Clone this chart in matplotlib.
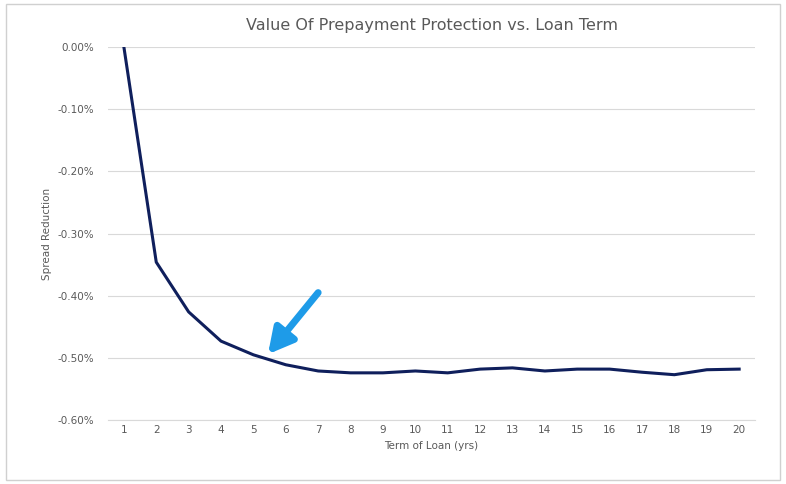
import matplotlib.pyplot as plt
from matplotlib.ticker import FuncFormatter

terms = list(range(1, 21))
spread = [0.0, -0.346, -0.426, -0.473, -0.495, -0.511, -0.521, -0.524, -0.524, -0.521,
          -0.524, -0.518, -0.516, -0.521, -0.518, -0.518, -0.523, -0.527, -0.519, -0.518]

fig = plt.figure(figsize=(7.86, 4.84), dpi=100)
ax = fig.add_axes([0.137, 0.132, 0.824, 0.771])
fig.patches.append(plt.Rectangle((0.008, 0.008), 0.984, 0.984, transform=fig.transFigure,
                                 fill=False, edgecolor="#d0d0d0", lw=1))

ax.plot(terms, spread, color="#0f1f5c", lw=2.2)
ax.set_xlim(0.5, 20.5)
ax.set_ylim(-0.6, 0)
ax.set_xticks(terms)
ax.set_yticks([0, -0.1, -0.2, -0.3, -0.4, -0.5, -0.6])
ax.yaxis.set_major_formatter(FuncFormatter(lambda v, p: f"{v:.2f}%"))
ax.grid(axis="y", color="#d9d9d9", lw=0.8)
ax.set_axisbelow(True)
for s in ["top", "right", "left"]:
    ax.spines[s].set_visible(False)
ax.spines["bottom"].set_color("#d9d9d9")
ax.tick_params(length=0, labelsize=7.5, colors="#595959")
ax.tick_params(axis="y", pad=10)

ax.set_xlabel("Term of Loan (yrs)", fontsize=7.5, color="#595959")
ax.set_ylabel("Spread Reduction", fontsize=7.5, color="#595959")
ax.set_title("Value Of Prepayment Protection vs. Loan Term", fontsize=11.5, color="#595959", pad=12)

ax.annotate("", xy=(5.45, -0.494), xytext=(7.0, -0.395),
            arrowprops=dict(arrowstyle="-|>,head_length=1.5,head_width=0.8",
                            color="#1e9be8", lw=5, shrinkA=0, shrinkB=0))

fig.savefig("out.png", dpi=100)
